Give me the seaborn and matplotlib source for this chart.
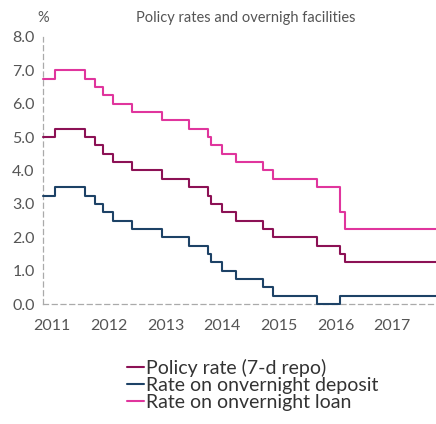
import pandas as pd
import seaborn as sns
import matplotlib.pyplot as plt
from matplotlib.transforms import ScaledTranslation

# step change dates (decimal years) and rate levels
dates = [2011.0, 2011.22, 2011.74, 2011.92, 2012.06, 2012.23, 2012.57, 2013.10, 2013.57,
         2013.91, 2013.96, 2014.16, 2014.40, 2014.88, 2015.06, 2015.83, 2016.24, 2016.33, 2017.93]
policy = [5.0, 5.25, 5.0, 4.75, 4.5, 4.25, 4.0, 3.75, 3.5, 3.25, 3.0, 2.75, 2.5, 2.25, 2.0,
          1.75, 1.5, 1.25, 1.25]
loan = [6.75, 7.0, 6.75, 6.5, 6.25, 6.0, 5.75, 5.5, 5.25, 5.0, 4.75, 4.5, 4.25, 4.0, 3.75,
        3.5, 2.75, 2.25, 2.25]
deposit_dates = dates[:16] + [2016.24, 2017.93]
deposit = [3.25, 3.5, 3.25, 3.0, 2.75, 2.5, 2.25, 2.0, 1.75, 1.5, 1.25, 1.0, 0.75, 0.5, 0.25,
           0.0, 0.25, 0.25]
years = [2011, 2012, 2013, 2014, 2015, 2016, 2017]
yticks = [0, 1, 2, 3, 4, 5, 6, 7, 8]

names = ['Policy rate (7-d repo)', 'Rate on onvernight deposit', 'Rate on onvernight loan']
colors = ['#8c1155', '#1d4266', '#e0359d']

df = pd.concat([
    pd.DataFrame({'date': dates, 'rate': policy, 'series': names[0]}),
    pd.DataFrame({'date': deposit_dates, 'rate': deposit, 'series': names[1]}),
    pd.DataFrame({'date': dates, 'rate': loan, 'series': names[2]}),
])

sns.set_style('white')
plt.rcParams['font.family'] = ['Lato', 'DejaVu Sans']

fig = plt.figure(figsize=(4.36, 4.24), dpi=100)
ax = fig.add_axes([43/436, 1-304/424, 1-43/436, (304-37)/424])

sns.lineplot(data=df, x='date', y='rate', hue='series', hue_order=names, palette=colors,
             drawstyle='steps-post', estimator=None, linewidth=1.5, ax=ax)
for l in ax.lines:
    l.set_clip_on(False)

ax.set_xlim(2011, 2017.93)
ax.set_ylim(0, 8)
ax.set_xticks(years)
ax.set_xticklabels([str(y) for y in years])
ax.set_yticks(yticks)
ax.set_yticklabels([f'{v:.1f}' for v in yticks])
ax.set_xlabel('')
ax.set_ylabel('')

for s in ['top', 'right']:
    ax.spines[s].set_visible(False)
for s in ['left', 'bottom']:
    ax.spines[s].set_linestyle((0, (4, 3)))
    ax.spines[s].set_color('#aaaaaa')
    ax.spines[s].set_linewidth(0.9)
    ax.spines[s].set_zorder(0)

ax.tick_params(axis='x', direction='in', length=4, color='#aaaaaa', pad=10.5,
               labelsize=11.5, labelcolor='#555555')
ax.tick_params(axis='y', direction='out', length=3, color='#aaaaaa', pad=3,
               labelsize=11.5, labelcolor='#555555')
for lab in ax.get_xticklabels():
    lab.set_transform(lab.get_transform() + ScaledTranslation(9/100, 0, fig.dpi_scale_trans))

fig.text(43/436, 1-18/424, '%', ha='center', va='center', fontsize=10.5, color='#555555')
fig.text(246/436, 1-18/424, 'Policy rates and overnigh facilities', ha='center', va='center',
         fontsize=10.5, color='#555555')

handles, labels = ax.get_legend_handles_labels()
ax.legend_.remove()
fig.legend(handles, labels, loc='upper left', bbox_to_anchor=(127/436, 1-359/424),
           frameon=False, fontsize=14, handlelength=0.85, handletextpad=0.12,
           labelspacing=0.0, borderaxespad=0, borderpad=0, labelcolor='#333333')

fig.savefig('out.png', dpi=100)
